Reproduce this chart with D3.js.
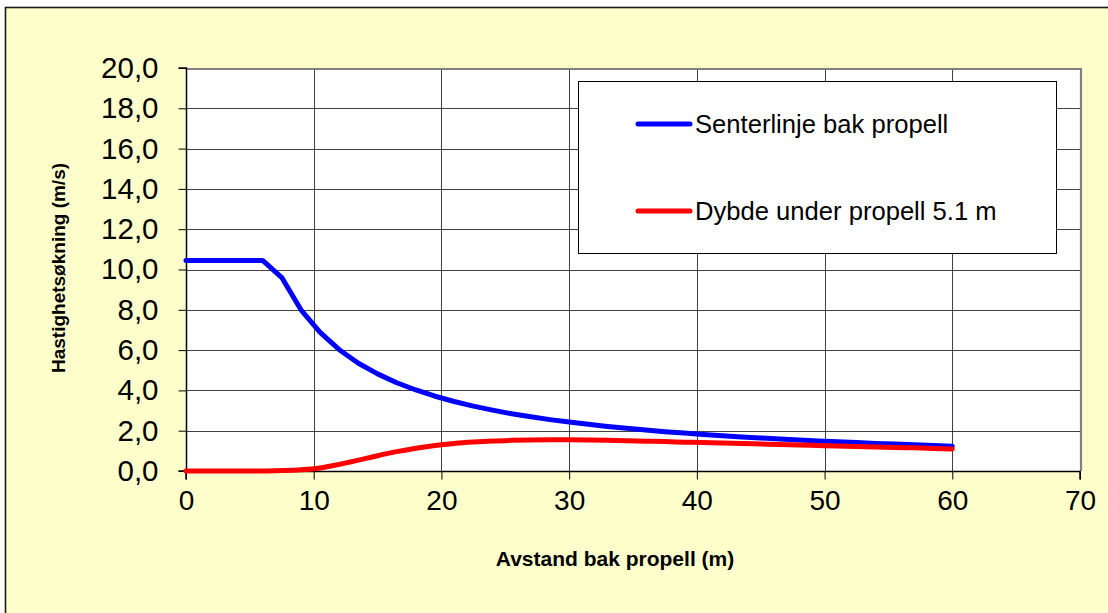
<!DOCTYPE html>
<html>
<head>
<meta charset="utf-8">
<script src="https://cdn.jsdelivr.net/npm/d3@7/dist/d3.min.js"></script>
<style>
  html, body { margin: 0; padding: 0; background: #ffffff; }
  svg { display: block; }
  text { font-family: "Liberation Sans", Arial, sans-serif; fill: #000; }
</style>
</head>
<body>
<svg id="chart" width="1108" height="613"></svg>
<script>
// Distance behind the propeller (m)
const distance = [0, 1.5, 3, 4.5, 6, 7.5, 9, 10.5, 12, 13.5, 15, 16.5, 18, 19.5, 21, 22.5, 24, 25.5,
  27, 28.5, 30, 31.5, 33, 34.5, 36, 37.5, 39, 40.5, 42, 43.5, 45, 46.5, 48, 49.5, 51, 52.5, 54,
  55.5, 57, 58.5, 60];

// Velocity increase along the propeller centre line (m/s)
const centreLine = [10.45, 10.45, 10.45, 10.45, 10.45, 9.6, 8.0, 6.88, 6.02, 5.35, 4.82, 4.38, 4.02,
  3.71, 3.45, 3.22, 3.02, 2.84, 2.69, 2.55, 2.43, 2.32, 2.21, 2.12, 2.03, 1.95, 1.88, 1.81, 1.75,
  1.69, 1.64, 1.59, 1.54, 1.49, 1.45, 1.41, 1.37, 1.34, 1.30, 1.27, 1.23];

// Velocity increase 5.1 m below the propeller (m/s)
const below51 = [0, 0, 0, 0, 0, 0.02, 0.06, 0.15, 0.33, 0.54, 0.76, 0.96, 1.13, 1.27, 1.37, 1.44,
  1.49, 1.52, 1.54, 1.55, 1.55, 1.54, 1.52, 1.50, 1.48, 1.46, 1.43, 1.41, 1.39, 1.36, 1.34, 1.31,
  1.29, 1.26, 1.24, 1.22, 1.19, 1.17, 1.15, 1.12, 1.09];

const seriesNames = ["Senterlinje bak propell", "Dybde under propell 5.1 m"];
const seriesColors = ["#0000ff", "#ff0000"];

const xTicks = [0, 10, 20, 30, 40, 50, 60, 70];
const yTicks = [0, 2, 4, 6, 8, 10, 12, 14, 16, 18, 20];

const xTitle = "Avstand bak propell (m)";
const yTitle = "Hastighetsøkning (m/s)";

const svg = d3.select("#chart");

// Chart background and frame
svg.append("rect")
  .attr("x", 5.5).attr("y", 7.5)
  .attr("width", 1110).attr("height", 620)
  .attr("fill", "#ffffcc")
  .attr("stroke", "#1a1a1a").attr("stroke-width", 1.6);

const plot = { left: 186, top: 68, right: 1080, bottom: 471 };

const x = d3.scaleLinear().domain([0, 70]).range([plot.left, plot.right]);
const y = d3.scaleLinear().domain([0, 20]).range([plot.bottom, plot.top]);

// Plot area
svg.append("rect")
  .attr("x", plot.left).attr("y", plot.top)
  .attr("width", plot.right - plot.left).attr("height", plot.bottom - plot.top)
  .attr("fill", "#ffffff");

// Gridlines
const grid = svg.append("g").attr("stroke", "#000").attr("stroke-width", 1).attr("shape-rendering", "crispEdges");
grid.selectAll("line.h").data(yTicks.slice(1, -1)).join("line")
  .attr("x1", plot.left).attr("x2", plot.right)
  .attr("y1", d => Math.round(y(d)) + 0.5).attr("y2", d => Math.round(y(d)) + 0.5)
  .attr("stroke-opacity", 0.75);
grid.selectAll("line.v").data(xTicks.slice(1, -1)).join("line")
  .attr("y1", plot.top).attr("y2", plot.bottom)
  .attr("x1", d => Math.round(x(d)) + 0.5).attr("x2", d => Math.round(x(d)) + 0.5)
  .attr("stroke-opacity", 0.75);

// Plot area border (top and right)
svg.append("path")
  .attr("d", `M${plot.left},${plot.top + 1}H${plot.right + 1}V${plot.bottom}`)
  .attr("fill", "none").attr("stroke", "#808080").attr("stroke-width", 2.2);

// Axes
const yAxis = d3.axisLeft(y).tickValues(yTicks).tickSize(8).tickPadding(20)
  .tickFormat(d => d3.format(".1f")(d).replace(".", ","));
const xAxis = d3.axisBottom(x).tickValues(xTicks).tickSize(8).tickPadding(11)
  .tickFormat(d3.format("d"));

const gy = svg.append("g").attr("transform", `translate(${plot.left + 0.5},0)`).call(yAxis);
const gx = svg.append("g").attr("transform", `translate(0,${plot.bottom + 0.5})`).call(xAxis);
[gy, gx].forEach(g => {
  g.select(".domain").attr("stroke", "#000").attr("stroke-width", 1.5);
  g.selectAll(".tick line").attr("stroke", "#000").attr("stroke-width", 1);
  g.selectAll(".tick text").attr("font-size", 28).attr("font-family", "Liberation Sans, Arial, sans-serif").attr("fill", "#000");
});
gy.selectAll(".tick text").attr("font-size", 29.5);
gy.select(".domain").attr("d", `M-8,${plot.bottom}H0V${plot.top}H-8`);
gx.select(".domain").attr("d", `M${plot.left},8V0H${plot.right}V8`);

// Series lines
const data = [centreLine, below51];
const curves = [d3.curveLinear, d3.curveMonotoneX];
data.forEach((vals, i) => {
  const line = d3.line()
    .x((d, j) => x(distance[j]))
    .y(d => y(d))
    .curve(curves[i]);
  svg.append("path")
    .datum(vals)
    .attr("d", line)
    .attr("fill", "none")
    .attr("stroke", seriesColors[i])
    .attr("stroke-width", 5)
    .attr("stroke-linejoin", "round")
    .attr("stroke-linecap", "round");
});

// Legend
const legend = svg.append("g");
legend.append("rect")
  .attr("x", 578.5).attr("y", 81.5).attr("width", 478).attr("height", 172)
  .attr("fill", "#fff").attr("stroke", "#000").attr("stroke-width", 1);
const legendY = [124, 211];
seriesNames.forEach((name, i) => {
  legend.append("line")
    .attr("x1", 638).attr("x2", 690)
    .attr("y1", legendY[i]).attr("y2", legendY[i])
    .attr("stroke", seriesColors[i]).attr("stroke-width", 5).attr("stroke-linecap", "round");
  legend.append("text")
    .attr("x", 695).attr("y", legendY[i])
    .attr("dy", "0.35em")
    .attr("font-size", 25.6)
    .text(name);
});

// Axis titles
svg.append("text")
  .attr("x", 615).attr("y", 566)
  .attr("text-anchor", "middle")
  .attr("font-size", 21).attr("font-weight", "bold")
  .text(xTitle);
svg.append("text")
  .attr("transform", `translate(65,268) rotate(-90)`)
  .attr("text-anchor", "middle")
  .attr("font-size", 19).attr("font-weight", "bold")
  .text(yTitle);
</script>
</body>
</html>
